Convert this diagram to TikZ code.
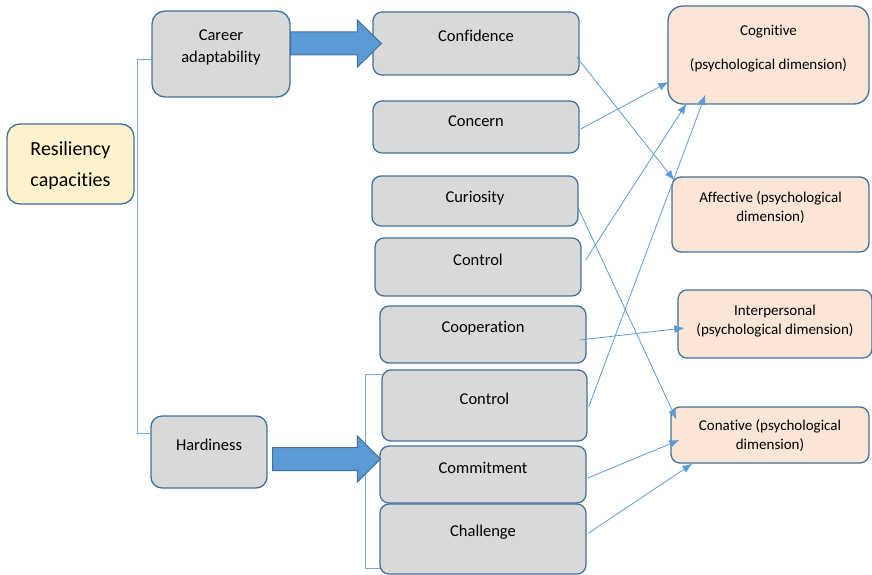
\documentclass[tikz,border=0pt]{standalone}
\usepackage{fontspec}
\setmainfont[Ligatures=NoCommon, Contextuals=NoAlternate, RawFeature={-liga;-clig;-calt;-dlig}]{Carlito}
\usetikzlibrary{calc,arrows.meta}
\definecolor{boxline}{HTML}{41719C}
\definecolor{boxgray}{HTML}{D9D9D9}
\definecolor{boxpeach}{HTML}{FBE5D6}
\definecolor{boxyellow}{HTML}{FFF2CC}
\definecolor{arrowblue}{HTML}{5B9BD5}
\definecolor{bracketblue}{HTML}{7AA9DD}
\tikzset{
    box/.style={draw=boxline, line width=1.3pt, rounded corners=9pt, fill=boxgray, align=center, inner sep=0pt, font=\fontsize{16.5}{22}\selectfont},
    dimbox/.style={box, fill=boxpeach, font=\fontsize{15}{19}\selectfont},
    link/.style={->, draw=arrowblue, line width=0.8pt},
    bigarrow/.style={fill=arrowblue, draw=boxline, line width=1pt},
    bracket/.style={draw=bracketblue, line width=0.9pt}
}
\begin{document}
\begin{tikzpicture}[x=1pt, y=-1pt, >={Latex[length=10pt,width=8pt]}]
\useasboundingbox (0,0) rectangle (872,575);
\node[box, fill=boxyellow, rounded corners=13pt, minimum width=127, minimum height=80, font=\fontsize{20}{31}\selectfont, text depth=0pt] (res) at (70.5,164) {Resiliency\\capacities};
\node[box, rounded corners=13pt, minimum width=138, minimum height=86, text depth=15pt] (career) at (221,54) {Career\\adaptability};
\node[box, rounded corners=11pt, minimum width=116, minimum height=72, text depth=15pt] (hard) at (209,452) {Hardiness};
\node[box, minimum width=206, minimum height=63, text depth=16pt] (conf) at (476,43.5) {Confidence};
\node[box, minimum width=206, minimum height=52, text depth=11pt] (concern) at (476,127) {Concern};
\node[box, minimum width=206, minimum height=50, text depth=9pt] (curio) at (475,201) {Curiosity};
\node[box, minimum width=206, minimum height=58, text depth=15pt] (ctrlA) at (478,267) {Control};
\node[box, minimum width=206, minimum height=57, text depth=16pt] (coop) at (483,334.5) {Cooperation};
\node[box, minimum width=205, minimum height=71, text depth=14pt] (ctrlB) at (484.5,405.5) {Control};
\node[box, minimum width=206, minimum height=57, text depth=14pt] (commit) at (483,474.5) {Commitment};
\node[box, minimum width=206, minimum height=70, text depth=17pt] (chall) at (483,539) {Challenge};
\node[dimbox, rounded corners=15pt, minimum width=201, minimum height=98, text depth=16pt] (cog) at (768.5,55) {Cognitive\\[15pt](psychological dimension)};
\node[dimbox, minimum width=197, minimum height=75, text depth=16pt] (aff) at (770.5,214.5) {Affective (psychological\\dimension)};
\node[dimbox, minimum width=194, minimum height=68, text depth=8pt] (inter) at (775,324) {Interpersonal\\(psychological dimension)};
\node[dimbox, minimum width=198, minimum height=56, text depth=1pt] (conat) at (770,435) {Conative (psychological\\dimension)};
\draw[bracket] ($(career.west)+(0,5)$) -- ++(-14,0) |- ($(hard.west)+(0,-19)$);
\draw[bracket] ($(ctrlB.north west)+(1,5)$) -- ++(-17,0) |- ($(chall.south west)+(1,-6)$);
\coordinate (tipA) at ($(conf.west)+(9,0)$);
\draw[bigarrow] ($(career.east |- tipA)+(0,-11.5)$) -- ($(tipA)+(-24,-11.5)$) -- ($(tipA)+(-24,-23.5)$) -- (tipA) -- ($(tipA)+(-24,23.5)$) -- ($(tipA)+(-24,11.5)$) -- ($(career.east |- tipA)+(0,11.5)$) -- cycle;
\coordinate (tipB) at ($(commit.west)+(1,-15.5)$);
\draw[bigarrow] ($(hard.east |- tipB)+(5,-11.5)$) -- ($(tipB)+(-23,-11.5)$) -- ($(tipB)+(-23,-23)$) -- (tipB) -- ($(tipB)+(-23,23)$) -- ($(tipB)+(-23,11.5)$) -- ($(hard.east |- tipB)+(5,11.5)$) -- cycle;
\draw[link] ($(conf.east)+(-3,13.5)$) -- ($(aff.north west)+(3,4)$);
\draw[link] ($(concern.east)+(1,2)$) -- ($(cog.west)+(1,27)$);
\draw[link] ($(curio.east)+(-1,6)$) -- ($(conat.north west)+(6,13)$);
\draw[link] ($(ctrlA.east)+(4,-7)$) -- ($(cog.south west)+(19,-1)$);
\draw[link] ($(ctrlB.east)+(1,1.5)$) -- ($(cog.south west)+(38,-10)$);
\draw[link] ($(coop.east)+(-7,5.5)$) -- ($(inter.west)+(7,4)$);
\draw[link] ($(commit.east)+(1,3.5)$) -- ($(conat.west)+(9,5)$);
\draw[link] ($(chall.east)+(2,-6)$) -- ($(conat.south west)+(22,0)$);
\end{tikzpicture}
\end{document}
